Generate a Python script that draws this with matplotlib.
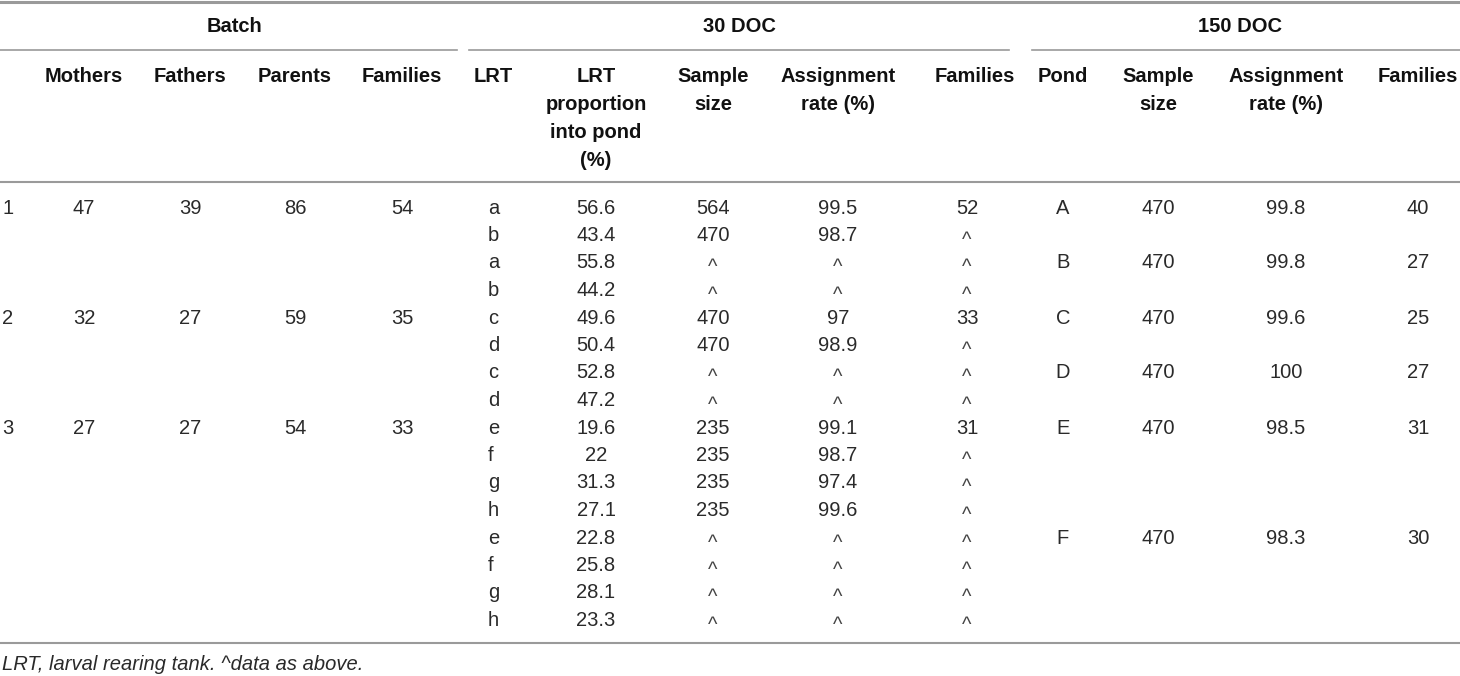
import matplotlib.pyplot as plt

# Datos de la tabla
batches = ['1', '2', '3']
mothers = ['47', '32', '27']
fathers = ['39', '27', '27']
parents = ['86', '59', '54']
families_batch = ['54', '35', '33']
rows_per_batch = [4, 4, 8]

lrt = ['a', 'b', 'a', 'b', 'c', 'd', 'c', 'd', 'e', 'f', 'g', 'h', 'e', 'f', 'g', 'h']
lrt_prop = ['56.6', '43.4', '55.8', '44.2', '49.6', '50.4', '52.8', '47.2',
            '19.6', '22', '31.3', '27.1', '22.8', '25.8', '28.1', '23.3']
sample_30 = ['564', '470', '^', '^', '470', '470', '^', '^',
             '235', '235', '235', '235', '^', '^', '^', '^']
assign_30 = ['99.5', '98.7', '^', '^', '97', '98.9', '^', '^',
             '99.1', '98.7', '97.4', '99.6', '^', '^', '^', '^']
families_30 = ['52', '^', '^', '^', '33', '^', '^', '^',
               '31', '^', '^', '^', '^', '^', '^', '^']

ponds = ['A', 'B', 'C', 'D', 'E', 'F']
pond_rows = [0, 2, 4, 6, 8, 12]
sample_150 = ['470', '470', '470', '470', '470', '470']
assign_150 = ['99.8', '99.8', '99.6', '100', '98.5', '98.3']
families_150 = ['40', '27', '25', '27', '31', '30']

group_titles = ['Batch', '30 DOC', '150 DOC']
col_titles = ['Mothers', 'Fathers', 'Parents', 'Families',
              'LRT', 'LRT\nproportion\ninto pond\n(%)', 'Sample\nsize', 'Assignment\nrate (%)', 'Families',
              'Pond', 'Sample\nsize', 'Assignment\nrate (%)', 'Families']
footnote = 'LRT, larval rearing tank. ^data as above.'

# Posiciones (pixeles)
W, H = 1460, 676
col_x = [84, 190, 295, 402, 474, 596, 713, 838, 975, 1063, 1158, 1286, 1418]
group_x = [234, 739, 1240]
group_lines = [(0, 457), (469, 1009), (1032, 1460)]
row0, dy = 208, 27.5
fs = 14.5
line_col = '#9a9a9a'
txt_col = '#2a2a2a'

plt.rcParams['font.family'] = ['Liberation Sans', 'DejaVu Sans']
fig = plt.figure(figsize=(W / 100, H / 100), dpi=100)
ax = fig.add_axes([0, 0, 1, 1])
ax.set_xlim(0, W)
ax.set_ylim(H, 0)
ax.axis('off')

# Lineas horizontales
ax.plot([0, W], [1.5, 1.5], color=line_col, lw=2.2)
for x0, x1 in group_lines:
    ax.plot([x0, x1], [50, 50], color=line_col, lw=1.2)
ax.plot([0, W], [182, 182], color=line_col, lw=1.5)
ax.plot([0, W], [643, 643], color=line_col, lw=1.5)

# Encabezados
for t, x in zip(group_titles, group_x):
    ax.text(x, 26, t, ha='center', va='center', fontsize=fs, fontweight='bold', color='#111111')
for t, x in zip(col_titles, col_x):
    ha = 'left' if t == 'LRT' else 'center'
    for k, ln in enumerate(t.split('\n')):
        ax.text(x, 76 + 28.3 * k, ln, ha=ha, va='center', fontsize=fs,
                fontweight='bold', color='#111111')

def cell(x, r, s, ha='center'):
    y = row0 + dy * r
    if s == '^':
        # el signo ^ del original va mas bajo
        ax.text(x, y + 5, s, ha=ha, va='center', fontsize=fs, color='#444444')
    else:
        ax.text(x, y, s, ha=ha, va='center', fontsize=fs, color=txt_col)

# Filas de Batch
r = 0
for b, m, f, p, fam, n in zip(batches, mothers, fathers, parents, families_batch, rows_per_batch):
    cell(2, r, b, ha='left')
    cell(col_x[0], r, m)
    cell(col_x[1], r, f)
    cell(col_x[2], r, p)
    cell(col_x[3], r, fam)
    r += n

# 30 DOC
for i in range(len(lrt)):
    cell(488, i, lrt[i], ha='left')
    cell(col_x[5], i, lrt_prop[i])
    cell(col_x[6], i, sample_30[i])
    cell(col_x[7], i, assign_30[i])
    cell(967, i, families_30[i])

# 150 DOC
for p, r, s, a, fam in zip(ponds, pond_rows, sample_150, assign_150, families_150):
    cell(col_x[9], r, p)
    cell(col_x[10], r, s)
    cell(col_x[11], r, a)
    cell(col_x[12], r, fam)

ax.text(2, 665, footnote, ha='left', va='center', fontsize=fs, style='italic', color=txt_col)

fig.savefig('out.png', dpi=100)
